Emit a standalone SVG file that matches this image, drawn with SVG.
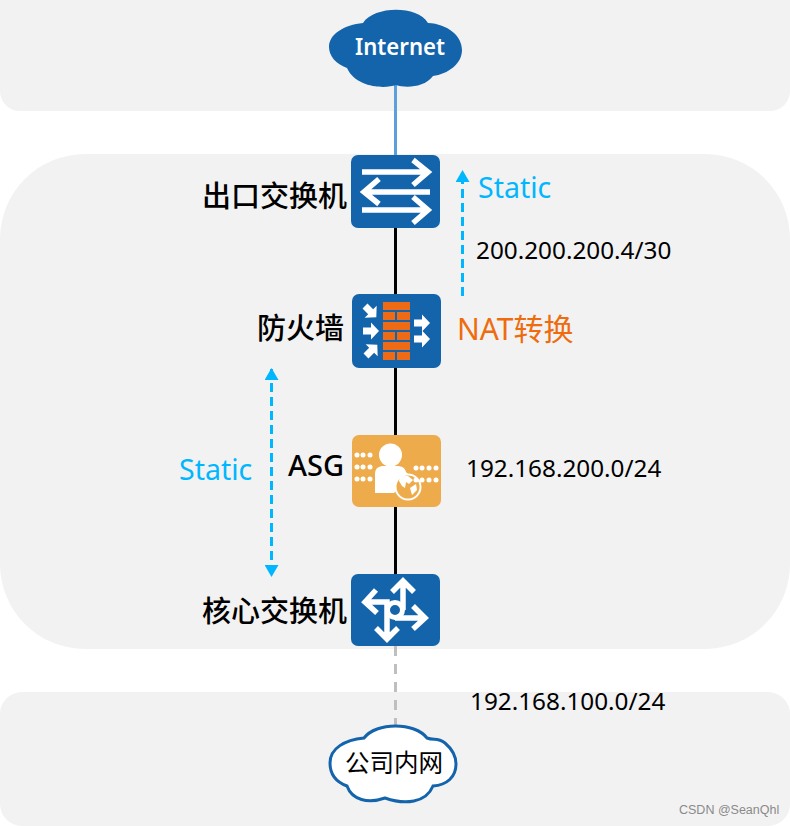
<svg xmlns="http://www.w3.org/2000/svg" width="790" height="826" viewBox="0 0 790 826">
<style>
text{font-family:"Noto Sans","Noto Sans CJK SC",sans-serif;font-size:24.3px;fill:#000}
.cn{font-size:29px;font-weight:500;text-anchor:end}
.st{font-size:28.500px;fill:#00b7ff}
.panel{fill:#f2f2f2}
.box{fill:#1464ac}
.w{fill:none;stroke:#fff;stroke-width:5.500}
.o{fill:#ee6a15}
.d{fill:#fff}
.dash{stroke:#00b7ff;stroke-width:3;stroke-dasharray:9 5;fill:none}
</style>
<defs>
<marker id="a" viewBox="0 0 12 14" refX="11" refY="7" markerWidth="12" markerHeight="14" markerUnits="userSpaceOnUse" orient="auto-start-reverse"><path d="M0 0L12 7L0 14Z" fill="#00b7ff"/></marker>
<path id="ar" d="M0-3.500H8V-8.500L16 0L8 8.500V3.500H0Z" fill="#fff"/>
</defs>
<g id="panels">
<rect class="panel" x="0" y="-30" width="790" height="141" rx="20"/>
<rect class="panel" x="0" y="154" width="790" height="495" rx="85"/>
<rect class="panel" x="0" y="692" width="790" height="134" rx="22"/>
</g>
<g id="connectors">
<path d="M395.500 84V156" stroke="#5b9fdc" stroke-width="3" fill="none"/>
<path d="M395.500 228V575" stroke="#000" stroke-width="3" fill="none"/>
<path d="M395.500 646V726" stroke="#bfbfbf" stroke-width="3" stroke-dasharray="10 8" fill="none"/>
<path class="dash" d="M462.500 296V171" marker-end="url(#a)"/>
<path class="dash" d="M271.500 369V576" marker-start="url(#a)" marker-end="url(#a)"/>
</g>
<g id="internet">
<path class="box" d="M363 23C374 6 417 5 428 23C448 24 462 36 462 50C462 64 448 74 433 76C424 88 405 88 396 85C385 89 356 88 347 68C336 64 329 56 329 47C329 34 344 25 363 23Z"/>
<text x="355" y="55" textLength="90" lengthAdjust="spacingAndGlyphs" style="fill:#fff;font-weight:600;font-size:24px">Internet</text>
</g>
<g id="exit-switch">
<rect class="box" x="351" y="155" width="89" height="73" rx="7"/>
<path class="w" d="M362 172H428M413 160L428 172L413 185M430 192H364M379 179L364 192L379 204M362 210H428M413 197L428 210L413 223"/>
<text class="cn" x="347" y="207">出口交换机</text>
</g>
<g id="firewall">
<rect class="box" x="352" y="294" width="89" height="74" rx="7"/>
<rect class="o" x="383" y="302" width="27" height="8"/>
<rect class="o" x="383" y="312" width="12" height="8"/><rect class="o" x="397" y="312" width="13" height="8"/>
<rect class="o" x="383" y="322" width="27" height="8"/>
<rect class="o" x="383" y="332" width="12" height="8"/><rect class="o" x="397" y="332" width="13" height="8"/>
<rect class="o" x="383" y="342" width="27" height="8"/>
<rect class="o" x="383" y="352" width="12" height="8"/><rect class="o" x="397" y="352" width="13" height="8"/>
<use href="#ar" transform="translate(365 306) rotate(45)"/>
<use href="#ar" transform="translate(363 331)"/>
<use href="#ar" transform="translate(366 356) rotate(-45)"/>
<use href="#ar" transform="translate(414 323)"/>
<use href="#ar" transform="translate(414 339)"/>
<text class="cn" x="344" y="339">防火墙</text>
</g>
<g id="asg">
<rect x="352" y="435" width="89" height="72" rx="7" fill="#eeab4c"/>
<circle class="d" cx="390.500" cy="455" r="11.500"/>
<path class="d" d="M375 474C375 468 379 466 384 466H397C402 466 405 468 406 472L410 476L394 493H375Z"/>
<circle cx="408" cy="487" r="12.500" fill="#eeab4c" stroke="#fff" stroke-width="2"/>
<path class="d" d="M400 476L408 476L413 480L409 484L406 482L405 488L402 486L399 481ZM410 488L416 484L417 490L412 495Z"/>
<g class="d">
<circle cx="357" cy="455" r="2.500"/><circle cx="363" cy="455" r="2.500"/><circle cx="370" cy="455" r="2.500"/>
<circle cx="357" cy="467" r="2.500"/><circle cx="363" cy="467" r="2.500"/><circle cx="370" cy="467" r="2.500"/>
<circle cx="357" cy="479" r="2.500"/><circle cx="363" cy="479" r="2.500"/><circle cx="370" cy="479" r="2.500"/>
<circle cx="416" cy="468" r="2.500"/><circle cx="422" cy="468" r="2.500"/><circle cx="429" cy="468" r="2.500"/><circle cx="436" cy="468" r="2.500"/>
<circle cx="416" cy="480" r="2.500"/><circle cx="422" cy="480" r="2.500"/><circle cx="429" cy="480" r="2.500"/><circle cx="436" cy="480" r="2.500"/>
</g>
<text class="cn" x="344" y="476">ASG</text>
</g>
<g id="core-switch">
<rect class="box" x="351" y="574" width="89" height="72" rx="7"/>
<circle cx="395" cy="610" r="7.500" fill="none" stroke="#fff" stroke-width="5"/>
<path class="w" d="M366 602H387V610M376 590L365 602L377 613M403 610V582M392 592L403 581L414 592M395 618H424M413 606L425 618L413 629M387 610V638M376 628L387 639L398 628"/>
<text class="cn" x="347" y="622">核心交换机</text>
</g>
<g id="intranet">
<path d="M364 738C376 722 415 722 427 738C434 741 437 737 445 743C452 749 456 756 456 764C456 777 447 785 433 786C426 803 405 805 385 798C368 804 352 800 347 786C336 782 330 775 330 763C330 748 345 740 364 738Z" fill="#fff" stroke="#1464ac" stroke-width="3"/>
<text x="345" y="772" style="font-size:24.500px">公司内网</text>
</g>
<g id="labels">
<text class="st" x="478" y="198">Static</text>
<text x="476" y="259">200.200.200.4/30</text>
<text x="457" y="340" style="font-size:30px;fill:#ee6c0e">NAT转换</text>
<text class="st" x="179" y="480">Static</text>
<text x="466" y="477">192.168.200.0/24</text>
<text x="470" y="710">192.168.100.0/24</text>
<text x="679" y="814" style="font-family:'Liberation Sans',sans-serif;font-size:12.500px;fill:#8a8a8a">CSDN @SeanQhl</text>
</g>
</svg>
